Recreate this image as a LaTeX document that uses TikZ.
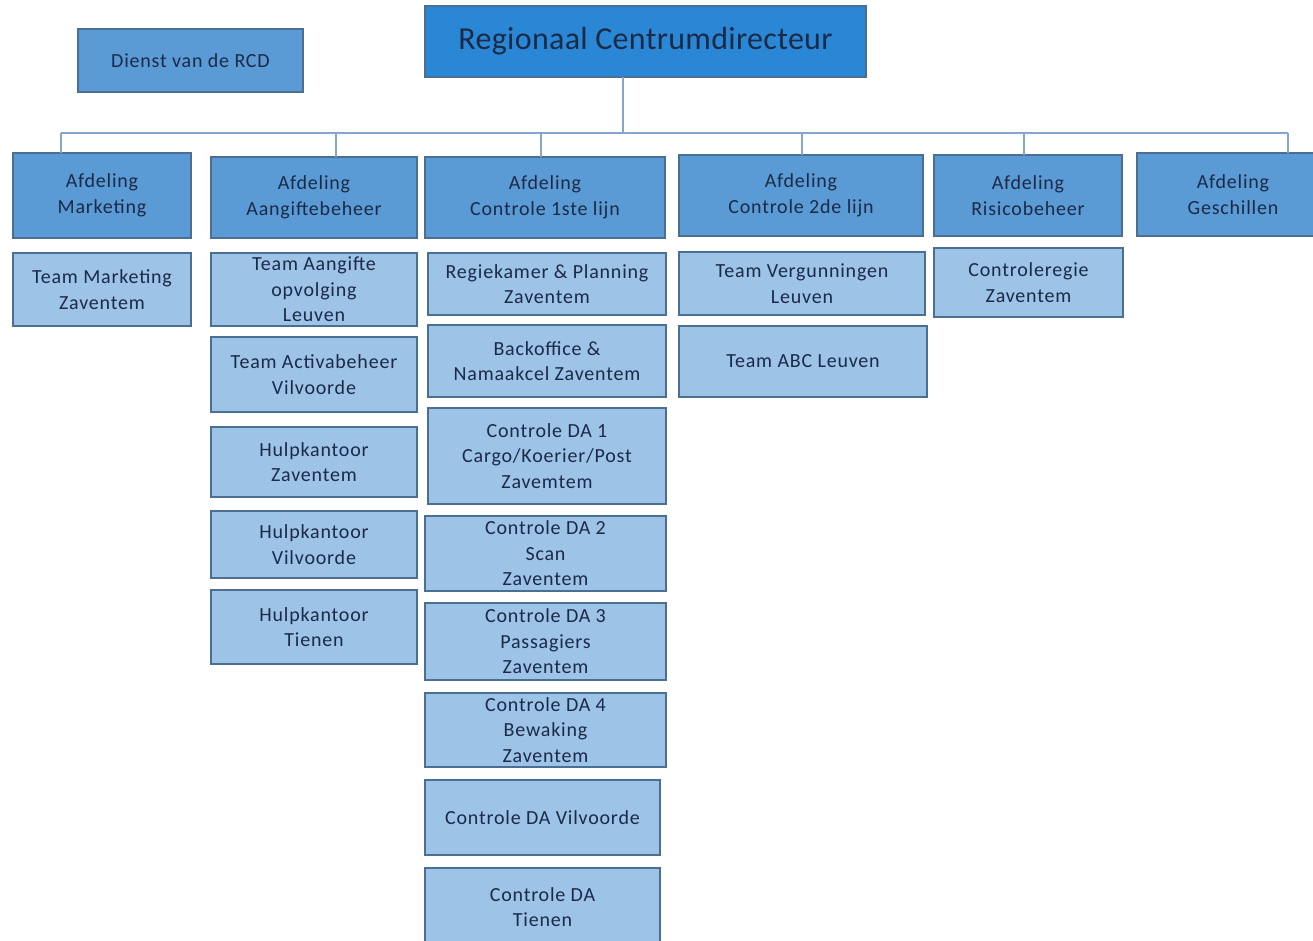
\documentclass[tikz,border=0pt]{standalone}
\usepackage{fontspec}
\setmainfont{Carlito}
\newfontfamily\boxfont{Carlito}[LetterSpace=4]
\newfontfamily\titlefont{Carlito}[LetterSpace=1]
\definecolor{txt}{HTML}{1B2A47}
\definecolor{topfill}{HTML}{2A87D6}
\definecolor{afdfill}{HTML}{5B9BD5}
\definecolor{subfill}{HTML}{9DC3E6}
\definecolor{edge}{HTML}{4A6F93}
\definecolor{conn}{HTML}{85A7CF}
\newcommand{\orgbox}[7]{%
  \node[#6, minimum width={(#4-#2)*1pt}, minimum height={(#5-#3)*1pt}]
    (#1) at ({(#2+#4)/2},{(#3+#5)/2}) {#7};}
\begin{document}
\begin{tikzpicture}[x=1pt,y=-1pt,
  basebox/.style={draw=edge, line width=1.1pt, rectangle, inner sep=0pt, outer sep=0pt,
    align=center, text=txt, font=\boxfont\fontsize{20}{25.5}\selectfont},
  topbox/.style={basebox, fill=topfill, font=\titlefont\fontsize{32}{36}\selectfont},
  afdbox/.style={basebox, fill=afdfill},
  subbox/.style={basebox, fill=subfill},
  link/.style={draw=conn, line width=1.5pt}]
\fill[white] (0,0) rectangle (1313,941);
\useasboundingbox (0,0) rectangle (1313,941);

\orgbox{rcd}{425}{6}{866}{77}{topbox}{Regionaal Centrumdirecteur}
\orgbox{dienst}{78}{29}{303}{92}{afdbox}{Dienst van de RCD}

\orgbox{a1}{13}{153}{191}{238}{afdbox}{Afdeling\\Marketing}
\orgbox{a2}{211}{157}{417}{238}{afdbox}{Afdeling\\Aangiftebeheer}
\orgbox{a3}{425}{157}{665}{238}{afdbox}{Afdeling\\Controle 1ste lijn}
\orgbox{a4}{679}{155}{923}{236}{afdbox}{Afdeling\\Controle 2de lijn}
\orgbox{a5}{934}{155}{1122}{236}{afdbox}{Afdeling\\Risicobeheer}
\orgbox{a6}{1137}{153}{1329}{236}{afdbox}{Afdeling\\Geschillen}

\orgbox{s11}{13}{253}{191}{326}{subbox}{Team Marketing\\Zaventem}

\orgbox{s21}{211}{253}{417}{326}{subbox}{Team Aangifte\\opvolging\\Leuven}
\orgbox{s22}{211}{337}{417}{412}{subbox}{Team Activabeheer\\Vilvoorde}
\orgbox{s23}{211}{427}{417}{497}{subbox}{Hulpkantoor\\Zaventem}
\orgbox{s24}{211}{511}{417}{578}{subbox}{Hulpkantoor\\Vilvoorde}
\orgbox{s25}{211}{590}{417}{664}{subbox}{Hulpkantoor\\Tienen}

\orgbox{s31}{428}{253}{666}{315}{subbox}{Regiekamer \& Planning\\Zaventem}
\orgbox{s32}{428}{325}{666}{397}{subbox}{Backoffice \&\\Namaakcel Zaventem}
\orgbox{s33}{428}{408}{666}{504}{subbox}{Controle DA 1\\Cargo/Koerier/Post\\Zavemtem}
\orgbox{s34}{425}{516}{666}{591}{subbox}{Controle DA 2\\Scan\\Zaventem}
\orgbox{s35}{425}{603}{666}{680}{subbox}{Controle DA 3\\Passagiers\\Zaventem}
\orgbox{s36}{425}{693}{666}{767}{subbox}{Controle DA 4\\Bewaking\\Zaventem}
\orgbox{s37}{425}{780}{660}{855}{subbox}{Controle DA Vilvoorde}
\orgbox{s38}{425}{868}{660}{950}{subbox}{\raisebox{9pt}{\begin{tabular}{@{}c@{}}Controle DA\\Tienen\end{tabular}}}

\orgbox{s41}{679}{252}{925}{315}{subbox}{Team Vergunningen\\Leuven}
\orgbox{s42}{679}{326}{927}{397}{subbox}{Team ABC Leuven}

\orgbox{s51}{934}{248}{1123}{317}{subbox}{Controleregie\\Zaventem}

% connectors
\coordinate (drop) at (623,77);
\coordinate (b1) at (61,133);
\coordinate (b2) at (336,133);
\coordinate (b3) at (541,133);
\coordinate (b4) at (802,133);
\coordinate (b5) at (1024,133);
\coordinate (b6) at (1288,133);
\draw[link] (drop |- rcd.south) -- (drop |- b1);
\draw[link] (b1) -- (b6);
\draw[link] (b1) -- (b1 |- a1.north);
\draw[link] (b2) -- (b2 |- a2.north);
\draw[link] (b3) -- (b3 |- a3.north);
\draw[link] (b4) -- (b4 |- a4.north);
\draw[link] (b5) -- (b5 |- a5.north);
\draw[link] (b6) -- (b6 |- a6.north);
\end{tikzpicture}
\end{document}
